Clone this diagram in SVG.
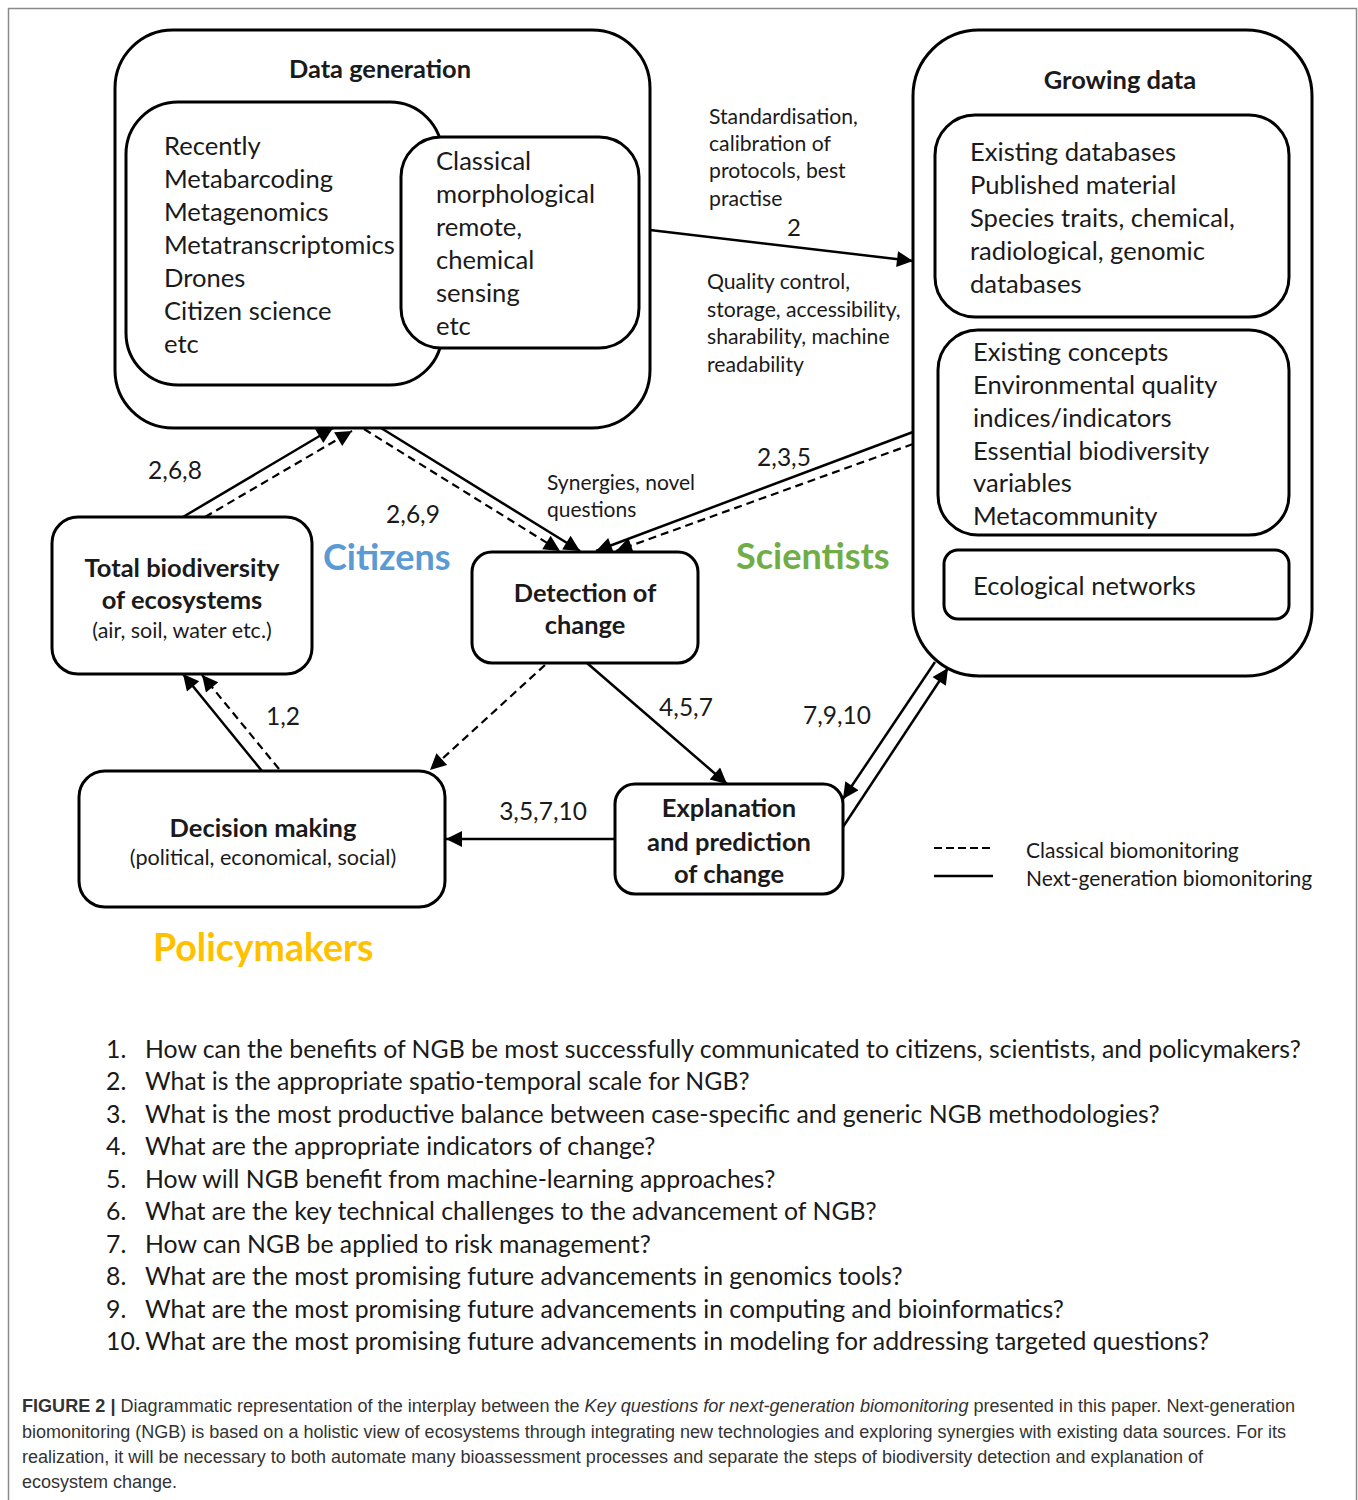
<svg xmlns="http://www.w3.org/2000/svg" width="1358" height="1500" viewBox="0 0 1358 1500">
<defs>
<marker id="ah" viewBox="0 0 10 10" refX="10" refY="5" markerWidth="21" markerHeight="16" markerUnits="userSpaceOnUse" orient="auto">
<path d="M0,0 L10,5 L0,10 Z" fill="#000"/>
</marker>
<style>
.box{fill:#fff;stroke:#000;stroke-width:3}
.t{font-family:Lato,"Noto Sans",sans-serif;fill:#1a1a1a}
.b{font-weight:bold}
.s{stroke:#000;stroke-width:2.5;fill:none;marker-end:url(#ah)}
.d{stroke:#000;stroke-width:2.2;fill:none;stroke-dasharray:8,5;marker-end:url(#ah)}
.q{font-family:Lato,"Noto Sans",sans-serif;font-size:24.8px;fill:#1a1a1a}
.cap{font-family:"Liberation Sans",Arial,sans-serif;font-size:17.5px;fill:#333}
</style>
</defs>
<rect x="0" y="0" width="1358" height="1500" fill="#fff"/>
<path d="M8.5,1500 V8.5 H1356.5 V1500" fill="none" stroke="#8a8a8a" stroke-width="1.5"/>

<g id="data-generation">
<rect class="box" x="115" y="30" width="535" height="398" rx="58"/>
<text class="t b" x="380" y="78" font-size="25.4" text-anchor="middle">Data generation</text>
<rect class="box" x="126" y="102" width="316" height="283" rx="52"/>
<text class="t" font-size="25.6" x="164" y="155">Recently</text>
<text class="t" font-size="25.6" x="164" y="188">Metabarcoding</text>
<text class="t" font-size="25.6" x="164" y="221">Metagenomics</text>
<text class="t" font-size="25.6" x="164" y="254">Metatranscriptomics</text>
<text class="t" font-size="25.6" x="164" y="287">Drones</text>
<text class="t" font-size="25.6" x="164" y="320">Citizen science</text>
<text class="t" font-size="25.6" x="164" y="353">etc</text>
<rect class="box" x="401" y="137" width="238" height="211" rx="40"/>
<text class="t" font-size="25.6" x="436" y="170">Classical</text>
<text class="t" font-size="25.6" x="436" y="203">morphological</text>
<text class="t" font-size="25.6" x="436" y="236">remote,</text>
<text class="t" font-size="25.6" x="436" y="269">chemical</text>
<text class="t" font-size="25.6" x="436" y="302">sensing</text>
<text class="t" font-size="25.6" x="436" y="335">etc</text>
</g>

<g id="growing-data">
<rect class="box" x="913" y="30" width="399" height="646" rx="66"/>
<text class="t b" x="1120" y="89" font-size="25.5" text-anchor="middle">Growing data</text>
<rect class="box" x="935" y="115" width="354" height="202" rx="40"/>
<text class="t" font-size="25.6" x="970" y="161">Existing databases</text>
<text class="t" font-size="25.6" x="970" y="194">Published material</text>
<text class="t" font-size="25.6" x="970" y="227">Species traits, chemical,</text>
<text class="t" font-size="25.6" x="970" y="260">radiological, genomic</text>
<text class="t" font-size="25.6" x="970" y="293">databases</text>
<rect class="box" x="938" y="330" width="351" height="205" rx="40"/>
<text class="t" font-size="25.6" x="973" y="361">Existing concepts</text>
<text class="t" font-size="25.6" x="973" y="394">Environmental quality</text>
<text class="t" font-size="25.6" x="973" y="427">indices/indicators</text>
<text class="t" font-size="25.6" x="973" y="460">Essential biodiversity</text>
<text class="t" font-size="25.6" x="973" y="492">variables</text>
<text class="t" font-size="25.6" x="973" y="525">Metacommunity</text>
<rect class="box" x="944" y="550" width="345" height="69" rx="14"/>
<text class="t" font-size="25.6" x="973" y="595">Ecological networks</text>
</g>

<g id="total-biodiversity">
<rect class="box" x="52" y="517" width="260" height="157" rx="26"/>
<text class="t b" font-size="25.5" x="182" y="577" text-anchor="middle">Total biodiversity</text>
<text class="t b" font-size="25.5" x="182" y="609" text-anchor="middle">of ecosystems</text>
<text class="t" font-size="21.5" x="182" y="638" text-anchor="middle">(air, soil, water etc.)</text>
</g>

<g id="detection">
<rect class="box" x="472" y="552" width="226" height="111" rx="20"/>
<text class="t b" font-size="25.4" x="585" y="602" text-anchor="middle">Detection of</text>
<text class="t b" font-size="25.4" x="585" y="634" text-anchor="middle">change</text>
</g>

<g id="decision-making">
<rect class="box" x="79" y="771" width="366" height="136" rx="26"/>
<text class="t b" font-size="25.5" x="263" y="837" text-anchor="middle">Decision making</text>
<text class="t" font-size="21.6" x="263" y="865" text-anchor="middle">(political, economical, social)</text>
</g>

<g id="explanation">
<rect class="box" x="615" y="784" width="228" height="110" rx="20"/>
<text class="t b" font-size="25.5" x="729" y="817" text-anchor="middle">Explanation</text>
<text class="t b" font-size="25.5" x="729" y="851" text-anchor="middle">and prediction</text>
<text class="t b" font-size="25.5" x="729" y="883" text-anchor="middle">of change</text>
</g>

<g id="connectors">
<path class="s" d="M650,230 L913,261"/>
<path class="s" d="M183,517 L333,428"/>
<path class="d" d="M205,517 L352,431"/>
<path class="d" d="M364,429 L560,551"/>
<path class="s" d="M381,428 L580,551"/>
<path class="s" d="M913,432 L596,551"/>
<path class="d" d="M913,444 L616,551"/>
<path class="s" d="M262,771 L183,674"/>
<path class="d" d="M279,769 L202,675"/>
<path class="d" d="M545,665 L430,770"/>
<path class="s" d="M587,663 L727,784"/>
<path class="s" d="M615,839 L446,839"/>
<path class="s" d="M935,662 L843,799"/>
<path class="s" d="M843,827 L948,668"/>
</g>

<g id="labels">
<text class="t" font-size="21.2" x="709" y="124">Standardisation,</text>
<text class="t" font-size="21.2" x="709" y="151">calibration of</text>
<text class="t" font-size="21.2" x="709" y="178">protocols, best</text>
<text class="t" font-size="21.2" x="709" y="206">practise</text>
<text class="t" font-size="24" x="794" y="236" text-anchor="middle">2</text>
<text class="t" font-size="21.2" x="707" y="289">Quality control,</text>
<text class="t" font-size="21.2" x="707" y="317">storage, accessibility,</text>
<text class="t" font-size="21.2" x="707" y="344">sharability, machine</text>
<text class="t" font-size="21.2" x="707" y="372">readability</text>
<text class="t" font-size="24.5" x="175" y="479" text-anchor="middle">2,6,8</text>
<text class="t" font-size="24.5" x="413" y="523" text-anchor="middle">2,6,9</text>
<text class="t" font-size="21" x="547" y="490">Synergies, novel</text>
<text class="t" font-size="21" x="547" y="517">questions</text>
<text class="t" font-size="24.5" x="784" y="466" text-anchor="middle">2,3,5</text>
<text class="t" font-size="24.5" x="283" y="725" text-anchor="middle">1,2</text>
<text class="t" font-size="24.5" x="686" y="716" text-anchor="middle">4,5,7</text>
<text class="t" font-size="24.5" x="837" y="724" text-anchor="middle">7,9,10</text>
<text class="t" font-size="24.5" x="543" y="820" text-anchor="middle">3,5,7,10</text>
<text class="t b" font-size="36" x="323" y="570" style="fill:#5b9bd5">Citizens</text>
<text class="t b" font-size="36" x="736" y="569" style="fill:#70ad47">Scientists</text>
<text class="t b" font-size="37.5" x="153" y="961" style="fill:#ffc000">Policymakers</text>
</g>

<g id="legend">
<line x1="934" y1="848" x2="993" y2="848" stroke="#000" stroke-width="2.2" stroke-dasharray="8,4"/>
<line x1="934" y1="876" x2="993" y2="876" stroke="#000" stroke-width="2.5"/>
<text class="t" font-size="21" x="1026" y="858">Classical biomonitoring</text>
<text class="t" font-size="21" x="1026" y="886">Next-generation biomonitoring</text>
</g>

<g id="questions">
<text class="q" x="106" y="1058">1.</text><text class="q" x="145" y="1058">How can the benefits of NGB be most successfully communicated to citizens, scientists, and policymakers?</text>
<text class="q" x="106" y="1090">2.</text><text class="q" x="145" y="1090">What is the appropriate spatio-temporal scale for NGB?</text>
<text class="q" x="106" y="1123">3.</text><text class="q" x="145" y="1123">What is the most productive balance between case-specific and generic NGB methodologies?</text>
<text class="q" x="106" y="1155">4.</text><text class="q" x="145" y="1155">What are the appropriate indicators of change?</text>
<text class="q" x="106" y="1188">5.</text><text class="q" x="145" y="1188">How will NGB benefit from machine-learning approaches?</text>
<text class="q" x="106" y="1220">6.</text><text class="q" x="145" y="1220">What are the key technical challenges to the advancement of NGB?</text>
<text class="q" x="106" y="1253">7.</text><text class="q" x="145" y="1253">How can NGB be applied to risk management?</text>
<text class="q" x="106" y="1285">8.</text><text class="q" x="145" y="1285">What are the most promising future advancements in genomics tools?</text>
<text class="q" x="106" y="1318">9.</text><text class="q" x="145" y="1318">What are the most promising future advancements in computing and bioinformatics?</text>
<text class="q" x="106" y="1350">10.</text><text class="q" x="145" y="1350">What are the most promising future advancements in modeling for addressing targeted questions?</text>
</g>

<g id="caption">
<text class="cap" x="22" y="1412" textLength="1273" lengthAdjust="spacingAndGlyphs"><tspan font-weight="bold">FIGURE 2 |</tspan> Diagrammatic representation of the interplay between the <tspan font-style="italic">Key questions for next-generation biomonitoring</tspan> presented in this paper. Next-generation</text>
<text class="cap" x="22" y="1438" textLength="1264" lengthAdjust="spacingAndGlyphs">biomonitoring (NGB) is based on a holistic view of ecosystems through integrating new technologies and exploring synergies with existing data sources. For its</text>
<text class="cap" x="22" y="1463" textLength="1181" lengthAdjust="spacingAndGlyphs">realization, it will be necessary to both automate many bioassessment processes and separate the steps of biodiversity detection and explanation of</text>
<text class="cap" x="22" y="1488" textLength="155" lengthAdjust="spacingAndGlyphs">ecosystem change.</text>
</g>
</svg>
